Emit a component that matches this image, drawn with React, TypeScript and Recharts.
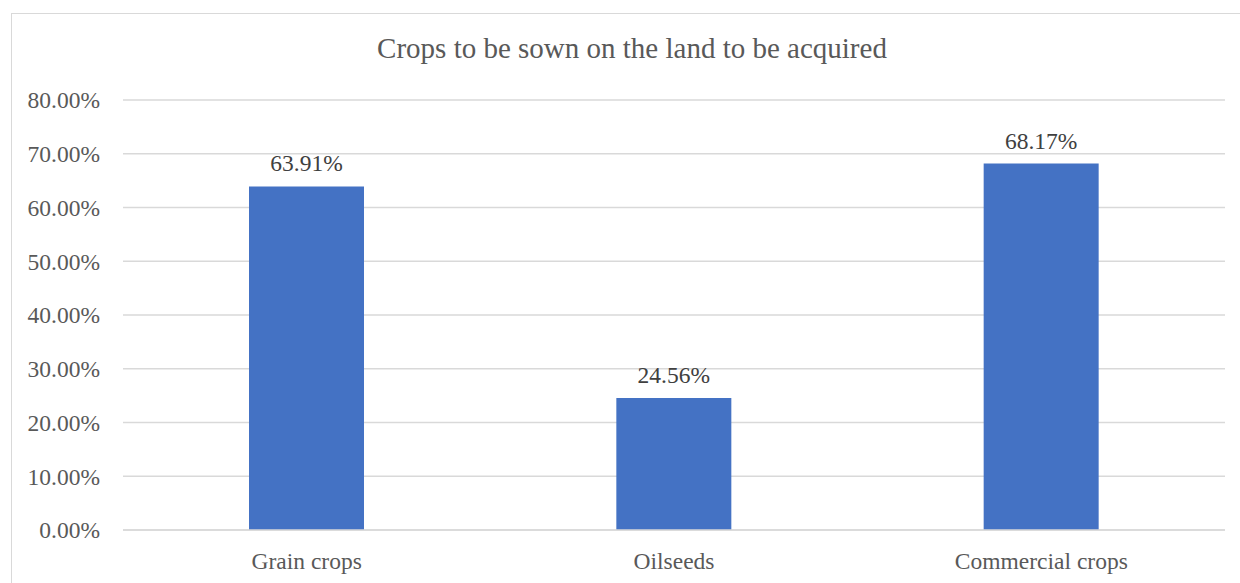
import React from 'react'
import { BarChart, Bar, XAxis, YAxis, CartesianGrid, LabelList } from 'recharts'

const categories = ['Grain crops', 'Oilseeds', 'Commercial crops']
const shares = [63.91, 24.56, 68.17]
const yTicks = [0, 10, 20, 30, 40, 50, 60, 70, 80]

const FONT = '"Liberation Serif", "Times New Roman", serif'
const TEXT = '#595959'
const SIZE = 23.5

export default function App() {
  const data = categories.map((name, i) => ({ name, value: shares[i] }))

  return (
    <div style={{ position: 'absolute', left: 0, top: 0, width: 1240, height: 583, overflow: 'hidden', background: '#fff', fontFamily: FONT }}>
      {/* chart area border, runs off the right and bottom edges */}
      <div style={{ position: 'absolute', left: 11, top: 13, width: 1260, height: 600, border: '1px solid #d9d9d9' }} />
      <div style={{ position: 'absolute', left: 0, width: 1264, top: 32, textAlign: 'center', fontSize: 29, lineHeight: '33px', color: TEXT }}>
        Crops to be sown on the land to be acquired
      </div>
      <div style={{ position: 'absolute', left: 0, top: 0 }}>
        <BarChart width={1240} height={583} data={data} margin={{ top: 100, right: 15, bottom: 23, left: 0 }}>
          <CartesianGrid vertical={false} stroke="#d9d9d9" strokeWidth={1.5} />
          <XAxis
            dataKey="name"
            height={30}
            axisLine={{ stroke: '#d9d9d9', strokeWidth: 1.5 }}
            tickLine={false}
            tickMargin={16}
            tick={{ fill: TEXT, fontSize: SIZE, fontFamily: FONT }}
          />
          <YAxis
            width={123}
            domain={[0, 80]}
            ticks={yTicks}
            axisLine={false}
            tickLine={false}
            tickMargin={17}
            tickFormatter={(v: number) => `${v.toFixed(2)}%`}
            tick={{ fill: TEXT, fontSize: SIZE, fontFamily: FONT }}
          />
          <Bar dataKey="value" fill="#4472c4" barSize={115} isAnimationActive={false}>
            <LabelList
              dataKey="value"
              position="top"
              offset={15}
              formatter={(v: number) => `${v.toFixed(2)}%`}
              style={{ fill: '#404040', fontSize: SIZE, fontFamily: FONT }}
            />
          </Bar>
        </BarChart>
      </div>
    </div>
  )
}
